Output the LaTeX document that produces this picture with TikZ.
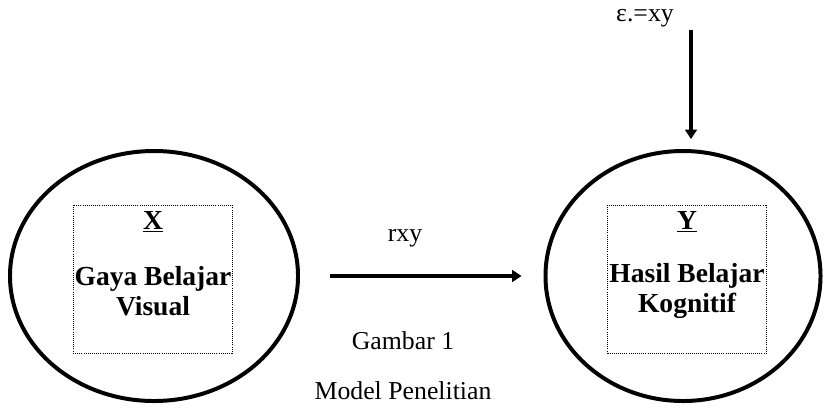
\documentclass[tikz,border=0pt]{standalone}
\usepackage{fontspec}
\setmainfont{Liberation Serif}
\usetikzlibrary{arrows.meta}
\usetikzlibrary{positioning}
\usetikzlibrary{shapes.geometric}

\begin{document}
\begin{tikzpicture}[x=0.03cm, y=-0.03cm,
    varcircle/.style={ellipse, draw, line width=3.4pt, minimum height=7.5cm, inner sep=0pt},
    varbox/.style={draw, densely dotted, line width=0.8pt, minimum width=4.77cm, minimum height=4.44cm, inner sep=0pt},
    varname/.style={font=\fontsize{23.5}{25}\selectfont\bfseries, align=center, inner sep=0pt},
    caption/.style={font=\fontsize{22}{24}\selectfont, inner sep=0pt},
    path/.style={line width=3.4pt, -{Triangle[length=8pt,width=10pt]}}]

  \useasboundingbox (0,0) rectangle (823,407);

  % variabel X
  \node[varcircle, minimum width=8.64cm] (ellX) at (154,276) {};
  \node[varbox] (boxX) at (152.5,279) {};
  \node[varname] (labX) at (153,222) {\underline{X}};
  \node[varname] (nameX) at (153,291) {Gaya Belajar\\Visual};

  % variabel Y
  \node[varcircle, minimum width=8.25cm] (ellY) at (683,276) {};
  \node[varbox] (boxY) at (687,279) {};
  \node[varname] (labY) at (687,222) {\underline{Y}};
  \node[varname] (nameY) at (687,291) {Hasil Belajar\\Kognitif};

  % hubungan
  \draw[path, shorten <=0.9cm, shorten >=0.66cm] (ellX.east) -- (ellY.west);
  \node[caption] (rxy) at (405,238) {rxy};
  \node[caption] (gbr) at (403,341) {Gambar 1};
  \node[caption] (model) at (403,391) {Model Penelitian};

  % residu
  \node[caption] (eps) at (645,18) {ε.=xy};
  \coordinate (epsEnd) at (691,30);
  \draw[path, shorten >=0.3cm] (epsEnd) -- (epsEnd |- ellY.north);

\end{tikzpicture}
\end{document}
